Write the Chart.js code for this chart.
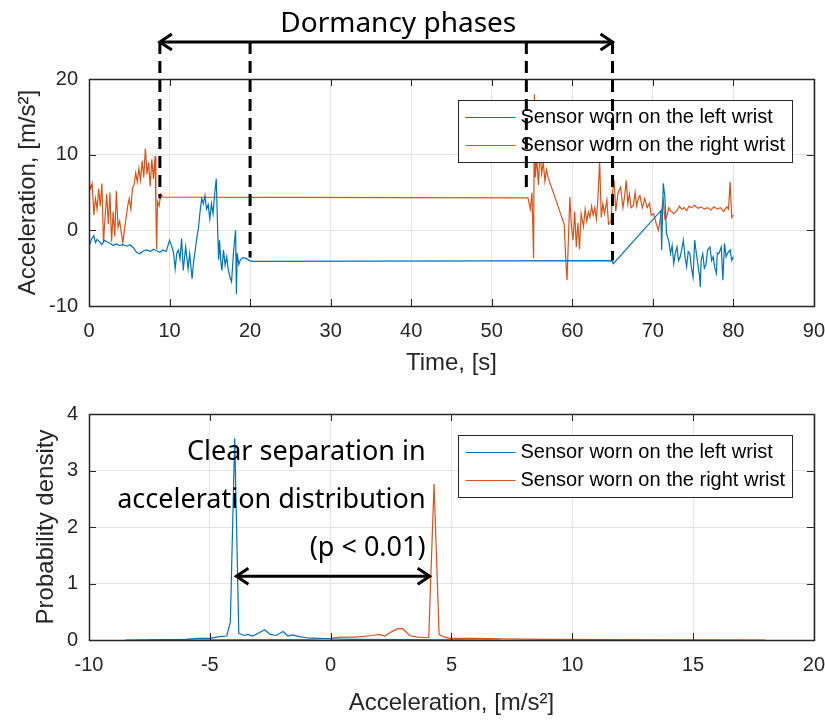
<!DOCTYPE html>
<html>
<head>
<meta charset="utf-8">
<script src="https://cdn.jsdelivr.net/npm/chart.js@4.4.1/dist/chart.umd.min.js"></script>
<style>
  html, body { margin: 0; padding: 0; background: #fff; }
  #wrap { position: relative; width: 825px; height: 720px; }
  #top-chart { position: absolute; left: 0; top: 0; }
  #bottom-chart { position: absolute; left: 0; top: 380px; }
</style>
</head>
<body>
<div id="wrap">
  <canvas id="top-chart" width="825" height="380"></canvas>
  <canvas id="bottom-chart" width="825" height="340"></canvas>
</div>
<script>
// --- data: time series (top panel) ---
const leftTime = [0.0, 0.3, 0.6, 0.8, 1.0, 1.3, 1.6, 1.9, 2.2, 2.6, 3.0, 3.4, 3.8, 4.2, 4.7, 5.1, 5.5, 5.9, 6.3, 6.8,
  7.2, 7.6, 8.0, 8.4, 8.8, 9.2, 9.6, 10.0, 10.3, 10.5, 10.7, 10.9, 11.1, 11.3, 11.5, 11.7, 12.0, 12.3, 12.5, 12.8,
  13.0, 13.2, 13.4, 13.6, 13.8, 14.0, 14.2, 14.4, 14.6, 14.8, 15.0, 15.2, 15.4, 15.6, 15.8, 16.0, 16.1, 16.2, 16.4, 16.5,
  16.7, 16.9, 17.1, 17.3, 17.5, 17.7, 17.9, 18.1, 18.2, 18.3, 18.4, 18.6, 18.8, 19.1, 19.5, 19.9, 20.3, 64.9, 65.1, 71.0,
  71.1, 71.3, 71.5, 71.7, 72.0, 72.2, 72.4, 72.6, 72.8, 73.0, 73.2, 73.4, 73.6, 73.8, 74.0, 74.2, 74.4, 74.6, 74.8, 75.0,
  75.2, 75.4, 75.6, 75.8, 75.9, 76.0, 76.2, 76.4, 76.6, 76.8, 77.1, 77.3, 77.5, 77.7, 77.9, 78.0, 78.2, 78.5, 78.7, 78.9,
  79.1, 79.3, 79.6, 79.8, 80.0];
const leftAcc = [-2.2, -1.2, -0.7, -1.6, -1.2, -1.5, -1.9, -1.3, -1.5, -1.7, -2.0, -1.8, -2.0, -1.9, -2.1, -1.9, -2.3, -2.9, -3.1, -2.7,
  -2.6, -2.8, -2.5, -2.7, -2.9, -2.6, -2.8, -1.3, -2.2, -3.0, -5.1, -3.0, -2.6, -3.8, -1.1, -5.3, -2.2, -5.1, -3.1, -6.4,
  -4.0, -2.6, -0.9, 0.4, 2.6, 4.2, 3.5, 4.6, 2.8, 3.4, 1.5, 3.5, 2.2, 4.8, 6.8, -0.9, -3.9, -1.3, -4.5, -5.3,
  -2.6, -4.6, -3.5, -5.3, -6.2, -6.8, -3.5, -1.0, 0.0, -8.4, -3.0, -4.5, -3.9, -3.6, -3.7, -4.0, -4.1, -4.0, -4.4, 2.6,
  -2.6, 6.2, 4.4, -0.4, -1.5, -3.1, -2.0, -4.4, -3.0, -2.2, -4.0, -3.5, -2.5, -1.3, -3.5, -4.8, -2.8, -3.1, -5.0, -6.2,
  -1.3, -3.0, -4.5, -6.0, -7.5, -4.0, -3.1, -5.0, -4.5, -2.6, -2.2, -4.0, -3.5, -5.0, -5.7, -3.0, -3.1, -2.2, -6.6, -1.7,
  -3.5, -3.0, -2.6, -4.0, -3.5];

const rightTime = [0.0, 0.2, 0.4, 0.6, 0.8, 1.0, 1.2, 1.4, 1.6, 1.8, 2.0, 2.2, 2.4, 2.6, 2.8, 3.0, 3.2, 3.4, 3.6, 3.8,
  4.0, 4.2, 4.5, 4.8, 5.0, 5.2, 5.4, 5.6, 5.8, 6.0, 6.2, 6.4, 6.6, 6.8, 7.0, 7.2, 7.4, 7.6, 7.8, 8.0,
  8.2, 8.3, 8.4, 8.5, 8.7, 8.9, 9.2, 54.5, 54.8, 55.0, 55.2, 55.3, 55.4, 55.6, 55.8, 56.0, 56.2, 56.4, 56.6, 56.8,
  57.0, 59.0, 59.2, 59.35, 59.5, 59.7, 59.9, 60.1, 60.3, 60.5, 60.7, 60.9, 61.1, 61.4, 61.6, 61.8, 62.0, 62.2, 62.4, 62.6,
  62.8, 63.0, 63.2, 63.4, 63.6, 63.8, 64.0, 64.3, 64.5, 64.8, 65.0, 65.2, 65.4, 65.7, 66.0, 66.3, 66.5, 66.7, 66.9, 67.1,
  67.3, 67.6, 67.8, 68.0, 68.2, 68.4, 68.7, 69.0, 69.3, 69.6, 69.8, 70.1, 70.4, 70.7, 71.0, 71.3, 71.5, 71.7, 72.0, 72.2,
  72.6, 73.0, 73.3, 73.6, 73.9, 74.2, 74.5, 74.8, 75.2, 75.6, 76.0, 76.4, 76.8, 77.2, 77.6, 78.0, 78.4, 78.8, 79.2, 79.4,
  79.6, 79.8, 80.0];
const rightAcc = [6.5, 5.5, 6.2, 2.0, 4.2, 2.8, 5.5, 3.2, 6.2, -1.6, 1.8, 4.8, 0.8, 5.0, -1.5, 2.5, -0.8, 5.2, 0.4, 1.2,
  -0.2, -1.6, 0.8, 3.2, 4.2, 2.8, 5.6, 6.0, 7.6, 6.4, 8.2, 6.6, 9.2, 7.0, 10.8, 7.4, 9.0, 5.8, 9.4, 6.8,
  9.8, 3.0, -2.5, 3.8, 3.2, 4.8, 4.4, 4.3, 2.8, 5.0, -3.7, 18.0, 7.0, 9.5, 6.0, 10.5, 7.5, 9.0, 6.5, 8.0,
  7.0, 0.8, -4.0, -6.6, -2.0, 4.4, 0.5, -1.3, 2.5, -2.2, 1.0, -2.5, 2.2, 0.5, 2.8, 1.2, 2.4, 1.7, 3.2, 2.0,
  3.0, 1.5, 4.5, 9.2, 1.7, 3.5, 2.2, 4.0, 0.8, 1.1, 5.0, 6.6, 2.5, 5.0, 5.7, 3.0, 4.5, 6.6, 3.5, 4.8,
  3.0, 3.3, 5.0, 3.2, 4.2, 4.6, 3.0, 4.2, 3.0, 3.6, 2.0, 2.2, 1.0, 0.0, 2.0, 4.0, 1.5, 1.7, 3.0, 2.6,
  2.2, 2.6, 3.2, 2.8, 3.0, 2.6, 3.2, 3.0, 3.3, 2.9, 3.1, 2.8, 3.0, 2.7, 3.1, 2.8, 3.0, 2.5, 3.1, 2.8,
  6.4, 1.7, 2.0];

// --- data: probability densities (bottom panel) ---
const leftPdfX = [-8.5, -7.0, -6.0, -5.5, -5.0, -4.6, -4.3, -4.15, -3.97, -3.8, -3.57, -3.43, -3.22, -3.0, -2.73, -2.5,
  -2.25, -1.97, -1.77, -1.57, -1.3, -1.0, -0.5, 0.0, 1.0, 3.0, 5.0, 7.0];
const leftPdfY = [0, 0.005, 0.01, 0.03, 0.03, 0.06, 0.07, 0.32, 3.57, 0.12, 0.08, 0.1, 0.07, 0.12, 0.18, 0.1,
  0.08, 0.15, 0.07, 0.09, 0.06, 0.04, 0.03, 0.02, 0.01, 0.005, 0.003, 0];
const rightPdfX = [-6.8, -3.0, -1.0, 0.0, 0.41, 1.06, 1.75, 2.0, 2.24, 2.5, 2.78, 2.98, 3.27, 3.6, 3.98, 4.06,
  4.28, 4.49, 4.7, 4.93, 6.0, 7.0, 9.0, 12.0, 15.0, 18.0];
const rightPdfY = [0, 0.005, 0.01, 0.03, 0.05, 0.05, 0.08, 0.1, 0.07, 0.14, 0.2, 0.2, 0.08, 0.05, 0.04, 0.05,
  2.76, 0.1, 0.05, 0.03, 0.03, 0.02, 0.01, 0.005, 0.003, 0];

const seriesLabels = ['Sensor worn on the left wrist', 'Sensor worn on the right wrist'];

// --- annotations ---
const dormancyTimes = [8.8, 20, 54.3, 65];
const dormancyEnds = [4.2, -3.6, 4.9, -4.0];
const dormancyTitle = 'Dormancy phases';
const separationLines = ['Clear separation in', 'acceleration distribution', '(p < 0.01)'];
const separationTextX = 3.93;
const separationTextY = [3.33, 2.48, 1.63];
const separationFrom = -3.9;
const separationTo = 4.1;
const separationLevel = 1.13;

const BLUE = '#0072BD';
const ORANGE = '#D95319';
const AXIS_COLOR = '#262626';
const GRID_COLOR = '#e3e3e3';
const TICK_FONT = { family: 'Liberation Sans', size: 20 };
const LABEL_FONT = { family: 'Liberation Sans', size: 24 };
const NOTE_FONT = '27px "Noto Sans"';

function toPoints(xs, ys) {
  return xs.map((x, i) => ({ x: x, y: ys[i] }));
}

// MATLAB-style box with inward tick marks
const matlabBox = {
  id: 'matlabBox',
  afterDatasetsDraw(chart) {
    const { ctx, chartArea: a, scales } = chart;
    ctx.save();
    ctx.strokeStyle = AXIS_COLOR;
    ctx.lineWidth = 1;
    ctx.beginPath();
    scales.x.ticks.forEach(t => {
      const px = Math.round(scales.x.getPixelForValue(t.value)) + 0.5;
      ctx.moveTo(px, a.bottom); ctx.lineTo(px, a.bottom - 7);
      ctx.moveTo(px, a.top); ctx.lineTo(px, a.top + 7);
    });
    scales.y.ticks.forEach(t => {
      const py = Math.round(scales.y.getPixelForValue(t.value)) + 0.5;
      ctx.moveTo(a.left, py); ctx.lineTo(a.left + 7, py);
      ctx.moveTo(a.right, py); ctx.lineTo(a.right - 7, py);
    });
    ctx.stroke();
    ctx.lineWidth = 1.5;
    ctx.strokeRect(Math.round(a.left) + 0.5, Math.round(a.top) + 0.5,
      Math.round(a.right - a.left), Math.round(a.bottom - a.top));
    ctx.restore();
  }
};

// legend box in the upper right corner of the axes
const boxLegend = {
  id: 'boxLegend',
  afterDatasetsDraw(chart) {
    const { ctx, chartArea: a } = chart;
    const left = Math.round(a.right - 356) + 0.5;
    const top = Math.round(a.top + 21) + 0.5;
    ctx.save();
    ctx.fillStyle = '#fff';
    ctx.fillRect(left, top, 334, 62);
    ctx.strokeStyle = AXIS_COLOR;
    ctx.lineWidth = 1;
    ctx.strokeRect(left, top, 334, 62);
    ctx.font = '20px "Liberation Sans"';
    ctx.textBaseline = 'middle';
    chart.data.datasets.forEach((ds, i) => {
      const y = top + 17 + i * 28;
      ctx.strokeStyle = ds.borderColor;
      ctx.lineWidth = 1.2;
      ctx.beginPath();
      ctx.moveTo(left + 7, y);
      ctx.lineTo(left + 57, y);
      ctx.stroke();
      ctx.fillStyle = '#000';
      ctx.fillText(ds.label, left + 62, y);
    });
    ctx.restore();
  }
};

function drawArrowHead(ctx, x, y, dir) {
  ctx.beginPath();
  ctx.moveTo(x - dir * 12, y - 8);
  ctx.lineTo(x, y);
  ctx.lineTo(x - dir * 12, y + 8);
  ctx.stroke();
}

function drawDoubleArrow(ctx, x1, x2, y) {
  ctx.beginPath();
  ctx.moveTo(x1, y);
  ctx.lineTo(x2, y);
  ctx.stroke();
  drawArrowHead(ctx, x1, y, -1);
  drawArrowHead(ctx, x2, y, 1);
}

const dormancyNotes = {
  id: 'dormancyNotes',
  afterDraw(chart) {
    const { ctx, chartArea: a, scales } = chart;
    const arrowY = a.top - 37;
    ctx.save();
    ctx.strokeStyle = '#000';
    ctx.lineWidth = 3;
    ctx.setLineDash([12, 7]);
    dormancyTimes.forEach((t, i) => {
      const px = scales.x.getPixelForValue(t);
      ctx.beginPath();
      ctx.moveTo(px, arrowY);
      ctx.lineTo(px, scales.y.getPixelForValue(dormancyEnds[i]));
      ctx.stroke();
    });
    ctx.setLineDash([]);
    drawDoubleArrow(ctx, scales.x.getPixelForValue(dormancyTimes[0]),
      scales.x.getPixelForValue(dormancyTimes[dormancyTimes.length - 1]), arrowY);
    ctx.fillStyle = '#000';
    ctx.font = '28px "Noto Sans"';
    ctx.textAlign = 'center';
    ctx.textBaseline = 'middle';
    ctx.fillText(dormancyTitle, scales.x.getPixelForValue(38.4), arrowY - 18);
    ctx.restore();
  }
};

const separationNotes = {
  id: 'separationNotes',
  afterDraw(chart) {
    const { ctx, scales } = chart;
    ctx.save();
    ctx.fillStyle = '#000';
    ctx.font = NOTE_FONT;
    ctx.textAlign = 'right';
    ctx.textBaseline = 'middle';
    separationLines.forEach((line, i) => {
      ctx.fillText(line, scales.x.getPixelForValue(separationTextX), scales.y.getPixelForValue(separationTextY[i]));
    });
    ctx.strokeStyle = '#000';
    ctx.lineWidth = 3;
    drawDoubleArrow(ctx, scales.x.getPixelForValue(separationFrom),
      scales.x.getPixelForValue(separationTo), scales.y.getPixelForValue(separationLevel));
    ctx.restore();
  }
};

function axisOptions(min, max, step, title, titlePad, isX, fitSize) {
  return {
    type: 'linear',
    min: min,
    max: max,
    ticks: {
      stepSize: step,
      font: TICK_FONT,
      color: AXIS_COLOR,
      // x labels are pushed down by an invisible tick mark, so the edge label padding stays small
      padding: isX ? 0 : 11,
      autoSkip: false,
      maxRotation: 0
    },
    grid: isX
      ? { color: GRID_COLOR, drawTicks: true, tickLength: 13, tickColor: 'rgba(0,0,0,0)' }
      : { color: GRID_COLOR, drawTicks: false },
    border: { display: false },
    title: {
      display: true,
      text: title,
      font: LABEL_FONT,
      color: AXIS_COLOR,
      padding: isX ? { top: 0, bottom: titlePad } : { top: titlePad, bottom: 0 }
    },
    afterFit(scale) {
      if (isX) scale.height = fitSize; else scale.width = fitSize;
    }
  };
}

function lineDataset(label, color, points) {
  return {
    label: label,
    data: points,
    borderColor: color,
    backgroundColor: color,
    borderWidth: 1.2,
    pointRadius: 0,
    tension: 0,
    fill: false
  };
}

const baseOptions = {
  responsive: false,
  animation: false,
  devicePixelRatio: 1,
  plugins: { legend: { display: false }, tooltip: { enabled: false } }
};

new Chart(document.getElementById('top-chart'), {
  type: 'line',
  data: {
    datasets: [
      lineDataset(seriesLabels[0], BLUE, toPoints(leftTime, leftAcc)),
      lineDataset(seriesLabels[1], ORANGE, toPoints(rightTime, rightAcc))
    ]
  },
  options: Object.assign({}, baseOptions, {
    layout: { padding: { top: 79, right: 0, left: 0, bottom: 0 } },
    scales: {
      x: axisOptions(0, 90, 10, 'Time, [s]', 2, true, 74),
      y: axisOptions(-10, 20, 10, 'Acceleration, [m/s²]', 14, false, 89)
    }
  }),
  plugins: [matlabBox, boxLegend, dormancyNotes]
});

new Chart(document.getElementById('bottom-chart'), {
  type: 'line',
  data: {
    datasets: [
      lineDataset(seriesLabels[0], BLUE, toPoints(leftPdfX, leftPdfY)),
      lineDataset(seriesLabels[1], ORANGE, toPoints(rightPdfX, rightPdfY))
    ]
  },
  options: Object.assign({}, baseOptions, {
    layout: { padding: { top: 34, right: 0, left: 0, bottom: 0 } },
    scales: {
      x: axisOptions(-10, 20, 5, 'Acceleration, [m/s²]', 2, true, 80),
      y: axisOptions(0, 4, 1, 'Probability density', 32, false, 89)
    }
  }),
  plugins: [matlabBox, boxLegend, separationNotes]
});
</script>
</body>
</html>
